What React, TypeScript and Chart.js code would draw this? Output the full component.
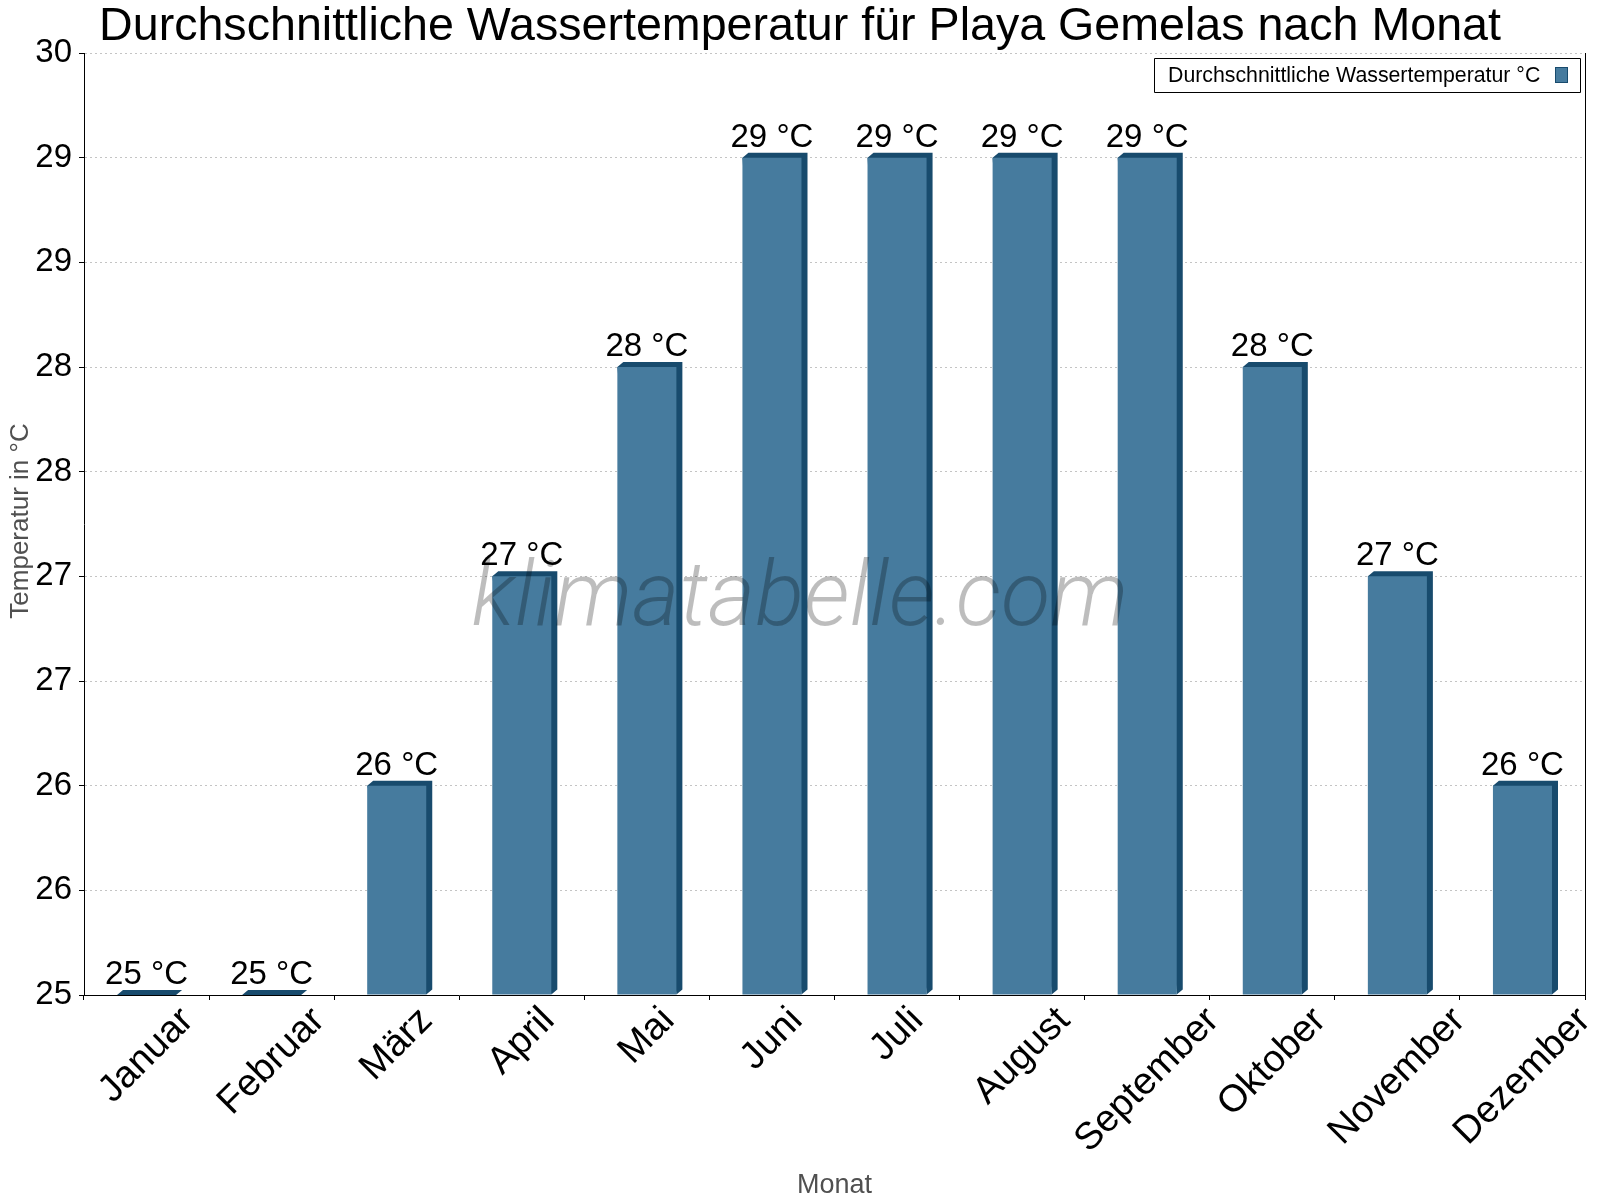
import { useEffect, useRef } from 'react';
import { Chart, registerables } from 'chart.js';

Chart.register(...registerables);

const months = ['Januar', 'Februar', 'März', 'April', 'Mai', 'Juni', 'Juli', 'August', 'September', 'Oktober', 'November', 'Dezember'];
const waterTemps = [25, 25, 26, 27, 28, 29, 29, 29, 29, 28, 27, 26];
const yMin = 25;
const yMax = 29.5;
const yStep = 0.5;
const seriesLabel = 'Durchschnittliche Wassertemperatur °C';
const chartTitle = 'Durchschnittliche Wassertemperatur für Playa Gemelas nach Monat';
const xTitle = 'Monat';
const yTitle = 'Temperatur in °C';
const unit = '°C';
const watermark = 'klimatabelle.com';

const FONT = '"Liberation Sans", Arial, sans-serif';
const FRONT = '#467b9e';
const SIDE = '#184b6d';
const DX = 6;
const DY = 5;

const decorPlugin = {
  id: 'decor',
  beforeDatasetsDraw(chart: any) {
    const ctx = chart.ctx;
    const meta = chart.getDatasetMeta(0);
    const bottom = chart.chartArea.bottom;
    ctx.save();
    ctx.fillStyle = SIDE;
    meta.data.forEach((bar: any) => {
      const p = bar.getProps(['x', 'y', 'base', 'width'], true);
      const base = Math.min(p.base, bottom);
      const y = Math.min(p.y, bottom);
      const l = p.x - p.width / 2;
      const r = p.x + p.width / 2;
      ctx.beginPath();
      ctx.moveTo(l, y);
      ctx.lineTo(l + DX, y - DY);
      ctx.lineTo(r + DX, y - DY);
      ctx.lineTo(r + DX, base - DY);
      ctx.lineTo(r, base);
      ctx.closePath();
      ctx.fill();
    });
    ctx.restore();
  },
  afterDatasetsDraw(chart: any) {
    const ctx = chart.ctx;
    // watermark
    ctx.save();
    ctx.font = 'italic 300 100px Roboto, "Liberation Sans", sans-serif';
    const mw = ctx.measureText(watermark).width;
    const size = 100 * 657 / mw;
    ctx.font = `italic 300 ${size}px Roboto, "Liberation Sans", sans-serif`;
    ctx.fillStyle = 'rgba(0,0,0,0.26)';
    ctx.textAlign = 'center';
    ctx.textBaseline = 'alphabetic';
    ctx.fillText(watermark, 800, 625);
    ctx.restore();
    // data labels
    const meta = chart.getDatasetMeta(0);
    ctx.save();
    ctx.font = `33px ${FONT}`;
    ctx.fillStyle = '#000';
    ctx.textAlign = 'center';
    ctx.textBaseline = 'alphabetic';
    meta.data.forEach((bar: any, i: number) => {
      const { x, y } = bar.getProps(['x', 'y'], true);
      ctx.fillText(`${Math.round(waterTemps[i])} ${unit}`, x, y - DY - 6);
    });
    ctx.restore();
  },
  afterDraw(chart: any) {
    const ctx = chart.ctx;
    const area = chart.chartArea;
    const xScale = chart.scales.x;
    ctx.save();
    // title
    ctx.font = `46.6px ${FONT}`;
    ctx.fillStyle = '#000';
    ctx.textAlign = 'center';
    ctx.textBaseline = 'alphabetic';
    ctx.fillText(chartTitle, 800, 40);
    // right border
    ctx.strokeStyle = '#000';
    ctx.lineWidth = 1;
    ctx.beginPath();
    ctx.moveTo(Math.round(area.right) + 0.5, area.top);
    ctx.lineTo(Math.round(area.right) + 0.5, area.bottom);
    ctx.stroke();
    // legend
    ctx.beginPath();
    ctx.rect(1154.5, 58.5, 426, 34);
    ctx.stroke();
    ctx.font = `21.3px ${FONT}`;
    ctx.textAlign = 'left';
    ctx.fillText(seriesLabel, 1168, 82);
    ctx.fillStyle = FRONT;
    ctx.fillRect(1555, 67, 13, 16);
    ctx.strokeStyle = SIDE;
    ctx.strokeRect(1555.5, 67.5, 12, 15);
    // x labels
    ctx.fillStyle = '#000';
    ctx.font = `38px ${FONT}`;
    ctx.textAlign = 'center';
    ctx.textBaseline = 'middle';
    months.forEach((m, i) => {
      const cx = xScale.getPixelForValue(i);
      const w = ctx.measureText(m).width;
      const cy = 1005 + (w + 27) * 0.3536;
      ctx.save();
      ctx.translate(cx, cy);
      ctx.rotate(-Math.PI / 4);
      ctx.fillText(m, 0, 0);
      ctx.restore();
    });
    // axis titles
    ctx.fillStyle = '#505050';
    ctx.font = `27px ${FONT}`;
    ctx.textBaseline = 'alphabetic';
    ctx.fillText(xTitle, (area.left + area.right) / 2, 1193);
    ctx.save();
    ctx.font = `26px ${FONT}`;
    ctx.translate(28, 521);
    ctx.rotate(-Math.PI / 2);
    ctx.fillText(yTitle, 0, 0);
    ctx.restore();
    ctx.restore();
  },
};

export default function App() {
  const ref = useRef<HTMLCanvasElement | null>(null);
  useEffect(() => {
    if (!ref.current) return;
    const chart = new Chart(ref.current, {
      type: 'bar',
      data: {
        labels: months,
        datasets: [
          {
            label: seriesLabel,
            data: waterTemps,
            base: yMin,
            backgroundColor: FRONT,
            borderWidth: 0,
            barPercentage: 0.472,
            categoryPercentage: 1,
          },
        ],
      },
      options: {
        responsive: false,
        maintainAspectRatio: false,
        animation: false,
        devicePixelRatio: 1,
        layout: { padding: { top: 53, right: 15, bottom: 0, left: 0 } },
        plugins: {
          legend: { display: false },
          title: { display: false },
          tooltip: { enabled: false },
        },
        scales: {
          x: {
            offset: true,
            grid: {
              offset: true,
              drawOnChartArea: false,
              drawTicks: true,
              tickLength: 5,
              tickColor: '#000',
              color: '#000',
            },
            border: { display: true, color: '#000', width: 1 },
            ticks: { display: false },
            afterFit: (scale: any) => {
              scale.height = 205;
            },
          },
          y: {
            min: yMin,
            max: yMax,
            grid: {
              color: '#c4c4c4',
              drawTicks: true,
              tickLength: 5,
              tickColor: '#000',
              tickBorderDash: [],
            },
            border: { display: true, color: '#000', width: 1, dash: [2, 3] },
            ticks: {
              stepSize: yStep,
              autoSkip: false,
              padding: 7,
              color: '#000',
              font: { size: 33, family: FONT },
              callback: (v: any) => String(Math.round(Number(v))),
            },
            afterFit: (scale: any) => {
              scale.width = 84;
            },
          },
        },
      },
      plugins: [decorPlugin],
    } as any);
    return () => chart.destroy();
  }, []);
  return (
    <div style={{ position: 'absolute', left: 0, top: 0, width: 1600, height: 1200, background: '#fff' }}>
      <canvas ref={ref} width={1600} height={1200} style={{ display: 'block', width: 1600, height: 1200 }} />
    </div>
  );
}
